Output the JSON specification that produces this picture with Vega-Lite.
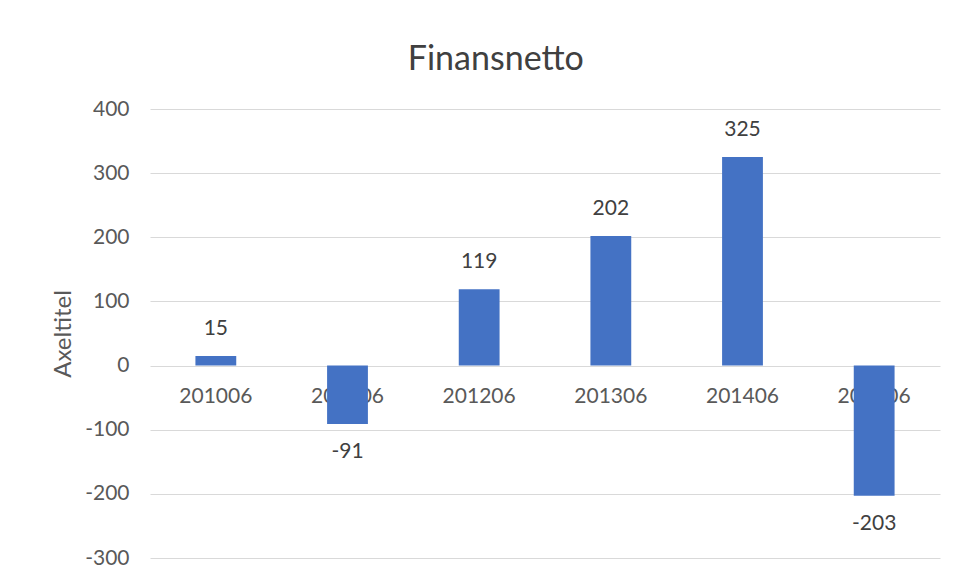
{
  "$schema": "https://vega.github.io/schema/vega-lite/v6.json",
  "width": 790,
  "height": 449,
  "padding": {"left": 51, "top": 43, "right": 10, "bottom": 5},
  "background": "white",
  "title": {"text": "Finansnetto", "font": "Lato", "fontSize": 34, "fontWeight": "normal", "color": "#404040", "anchor": "middle", "frame": "bounds", "offset": 21},
  "config": {"view": {"stroke": null}},
  "data": {"values": [
    {"period": "201006", "value": 15},
    {"period": "201106", "value": -91},
    {"period": "201206", "value": 119},
    {"period": "201306", "value": 202},
    {"period": "201406", "value": 325},
    {"period": "201506", "value": -203}
  ]},
  "encoding": {
    "x": {"field": "period", "type": "nominal", "sort": null, "scale": {"paddingInner": 0.69, "paddingOuter": 0.345}, "axis": null}
  },
  "layer": [
    {
      "mark": {"type": "text", "dy": 31, "font": "Lato", "fontSize": 21, "color": "#595959"},
      "encoding": {
        "y": {"datum": 0, "type": "quantitative", "scale": {"domain": [-300, 400], "nice": false}, "axis": {"title": "Axeltitel", "values": [-300, -200, -100, 0, 100, 200, 300, 400], "labelExpr": "'' + datum.value", "grid": true, "gridColor": "#d9d9d9", "domain": false, "ticks": false, "labelFont": "Lato", "labelFontSize": 21, "labelColor": "#595959", "labelPadding": 21, "titleFont": "Lato", "titleFontSize": 24, "titleFontWeight": "normal", "titleColor": "#595959", "titlePadding": 9}},
        "text": {"field": "period"}
      }
    },
    {
      "mark": {"type": "bar", "color": "#4472C4"},
      "encoding": {
        "y": {"field": "value", "type": "quantitative", "scale": {"domain": [-300, 400], "nice": false}, "axis": {"title": "Axeltitel", "values": [-300, -200, -100, 0, 100, 200, 300, 400], "labelExpr": "'' + datum.value", "grid": true, "gridColor": "#d9d9d9", "domain": false, "ticks": false, "labelFont": "Lato", "labelFontSize": 21, "labelColor": "#595959", "labelPadding": 21, "titleFont": "Lato", "titleFontSize": 24, "titleFontWeight": "normal", "titleColor": "#595959", "titlePadding": 9}}
      }
    },
    {
      "transform": [{"filter": "datum.value >= 0"}],
      "mark": {"type": "text", "dy": -27, "font": "Lato", "fontSize": 21, "color": "#404040"},
      "encoding": {
        "y": {"field": "value", "type": "quantitative"},
        "text": {"field": "value"}
      }
    },
    {
      "transform": [{"filter": "datum.value < 0"}],
      "mark": {"type": "text", "dy": 28, "font": "Lato", "fontSize": 21, "color": "#404040"},
      "encoding": {
        "y": {"field": "value", "type": "quantitative"},
        "text": {"field": "value"}
      }
    }
  ]
}
